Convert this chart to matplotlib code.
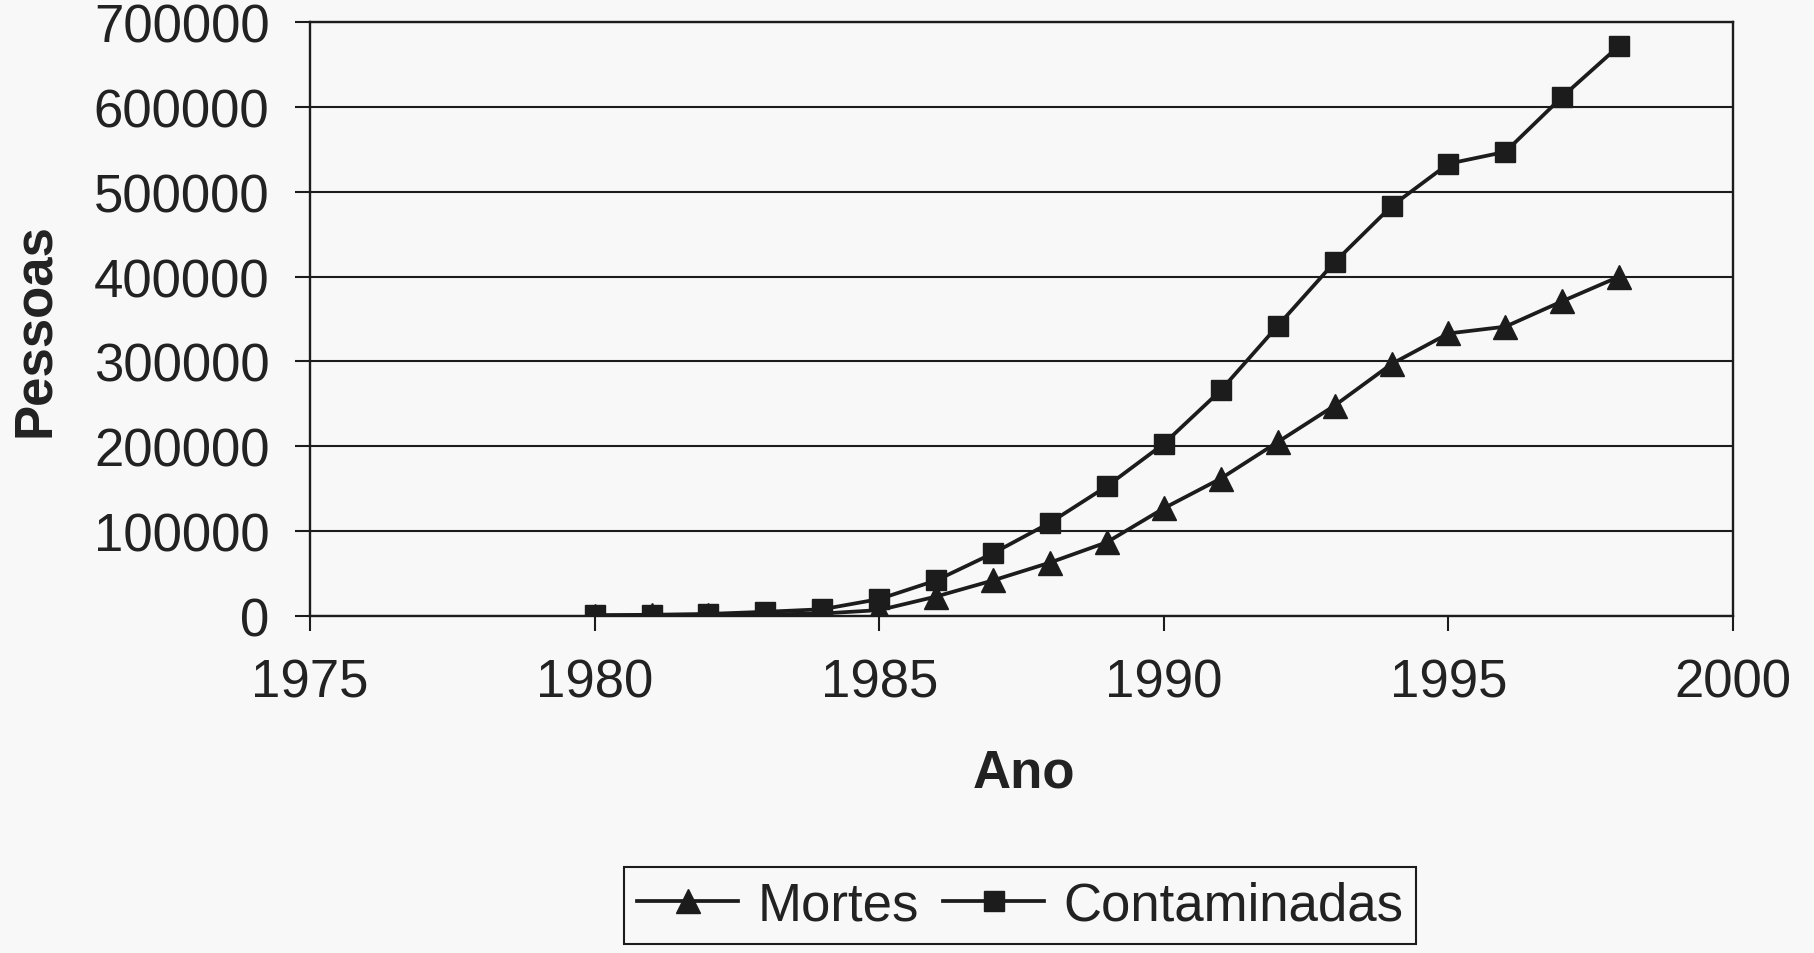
import matplotlib
matplotlib.use("Agg")
import matplotlib.pyplot as plt
from matplotlib.ticker import FuncFormatter

plt.rcParams["font.family"] = ["Liberation Sans", "DejaVu Sans"]

anos = [1980, 1981, 1982, 1983, 1984, 1985, 1986, 1987, 1988, 1989,
        1990, 1991, 1992, 1993, 1994, 1995, 1996, 1997, 1998]
mortes = [500, 800, 1200, 2000, 3000, 7000, 23000, 42000, 63000, 87000,
          127000, 162000, 205000, 248000, 297000, 333000, 341000, 371000, 400000]
contaminadas = [1000, 1500, 2500, 5000, 8000, 20000, 42000, 74000, 110000, 153000,
                203000, 266000, 342000, 417000, 483000, 533000, 547000, 612000, 672000]
x_ticks = [1975, 1980, 1985, 1990, 1995, 2000]
y_ticks = [0, 100000, 200000, 300000, 400000, 500000, 600000, 700000]

ink = "#1c1c1c"
bg = "#f8f8f8"

fig = plt.figure(figsize=(18.14, 9.54), dpi=100, facecolor=bg)
ax = fig.add_axes([0.1709, 0.3532, 0.7845, 0.6227], facecolor=bg)

ax.plot(anos, mortes, color=ink, lw=2.7, marker="^", ms=17, label="Mortes")
ax.plot(anos, contaminadas, color=ink, lw=2.7, marker="s", ms=15, label="Contaminadas")

ax.set_xlim(1975, 2000)
ax.set_ylim(0, 700000)
ax.set_xticks(x_ticks)
ax.set_yticks(y_ticks)
ax.yaxis.set_major_formatter(FuncFormatter(lambda v, p: f"{v:.0f}"))
ax.grid(axis="y", color=ink, lw=1.5)
ax.set_axisbelow(True)

ax.tick_params(direction="out", length=10.5, width=1.5, labelsize=38,
               color=ink, labelcolor="#222222")
ax.tick_params(axis="y", pad=18.7)
ax.tick_params(axis="x", pad=19)
for s in ax.spines.values():
    s.set_color(ink)
    s.set_linewidth(1.7)

# axis titles
ax.set_xlabel("Ano", fontsize=38, fontweight="bold", color="#222222", va="top")
ax.xaxis.set_label_coords(0.502, -0.2205)
ax.set_ylabel("Pessoas", fontsize=38, fontweight="bold", color="#222222", va="center")
ax.yaxis.set_label_coords(-0.193, 0.483)

leg = ax.legend(loc="center", bbox_to_anchor=(0.5623, 0.0498), bbox_transform=fig.transFigure,
                ncol=2, fontsize=38, frameon=True, fancybox=False, edgecolor=ink,
                facecolor=bg, framealpha=1, handlelength=1.92, handletextpad=0.36,
                columnspacing=0.46, borderpad=0.25)
leg.get_frame().set_linewidth(1.5)
for t in leg.get_texts():
    t.set_color("#222222")

fig.savefig("out.png", dpi=100, facecolor=bg)
